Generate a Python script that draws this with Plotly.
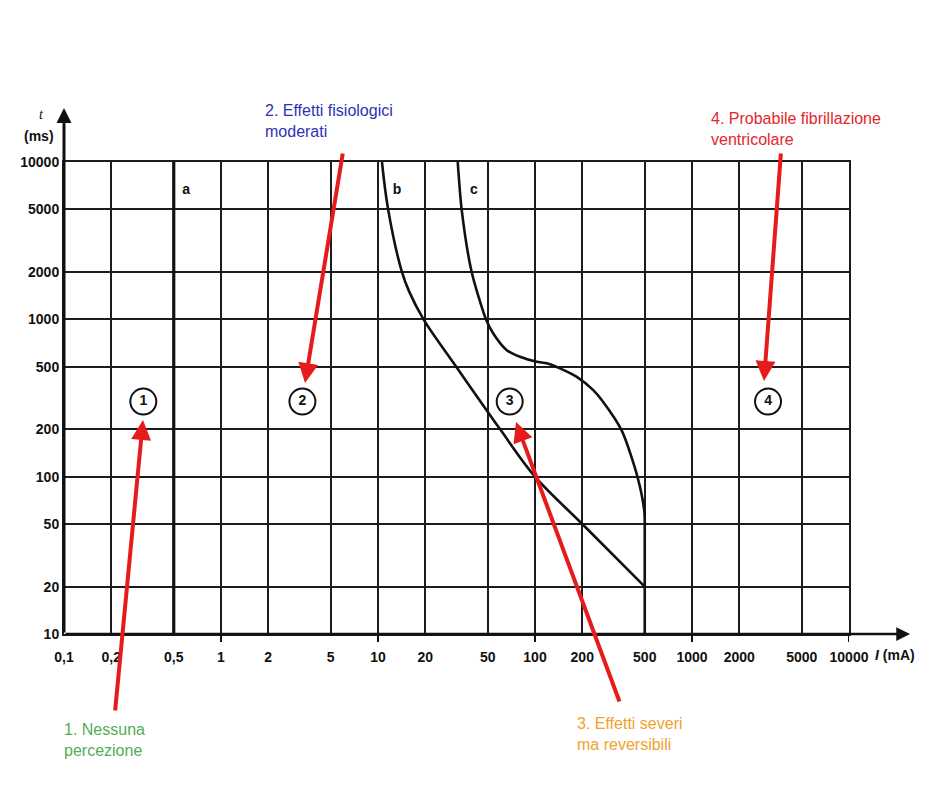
import plotly.graph_objects as go

# ---------------- data ----------------
x_ticks = [0.1, 0.2, 0.5, 1, 2, 5, 10, 20, 50, 100, 200, 500, 1000, 2000, 5000, 10000]
x_ticklabels = ["0,1", "0,2", "0,5", "1", "2", "5", "10", "20", "50", "100", "200",
                "500", "1000", "2000", "5000", "10000"]
y_ticks = [10, 20, 50, 100, 200, 500, 1000, 2000, 5000, 10000]
y_ticklabels = ["10", "20", "50", "100", "200", "500", "1000", "2000", "5000", "10000"]
decade_ticks = [1, 10, 100, 1000, 10000]

line_a_I = [0.5, 0.5]
line_a_t = [10, 10000]

curve_b_I = [10.6, 11.6, 14.2, 15.8, 19.5, 31.5, 60, 100, 200, 500]
curve_b_t = [10000, 5000, 2000, 1500, 1000, 500, 200, 100, 50, 20]

curve_c_I = [32.2, 34.1, 39.5, 48.7, 54.2, 66.1, 80.2, 102.6, 118.8, 144, 184.6, 235, 266, 357, 449, 497, 500, 500]
curve_c_t = [10000, 5000, 2000, 1000, 813, 637, 578, 537, 525, 488, 431, 355, 307, 196, 100, 60, 40, 10]

letter_I = [0.6, 13.2, 40.8]
letter_t = [6600, 6600, 6600]
letter_text = ["a", "b", "c"]

zone_I = [0.32, 3.3, 69, 3050]
zone_t = [300, 300, 300, 300]
zone_text = ["1", "2", "3", "4"]

zone_desc = ["1. Nessuna<br>percezione",
             "2. Effetti fisiologici<br>moderati",
             "3. Effetti severi<br>ma reversibili",
             "4. Probabile fibrillazione<br>ventricolare"]
zone_colors = ["#52ad57", "#2e31b6", "#f0a130", "#e3262a"]

# ---------------- layout helpers (pixel -> paper) ----------------
L, R, T, B = 64, 849, 162, 634
W, H = 952, 812


def px(x):
    return (x - L) / (R - L)


def py(y):
    return (B - y) / (B - T)


fig = go.Figure()

fig.add_trace(go.Scatter(x=line_a_I, y=line_a_t, mode="lines",
                         line=dict(color="#111111", width=3.2), showlegend=False, hoverinfo="skip"))
fig.add_trace(go.Scatter(x=curve_b_I, y=curve_b_t, mode="lines",
                         line=dict(color="#111111", width=2.6, shape="spline", smoothing=1.0),
                         showlegend=False))
fig.add_trace(go.Scatter(x=curve_c_I, y=curve_c_t, mode="lines",
                         line=dict(color="#111111", width=2.6, shape="spline", smoothing=0.7),
                         showlegend=False))
fig.add_trace(go.Scatter(x=letter_I, y=letter_t, mode="text", text=letter_text,
                         textfont=dict(family="Liberation Sans", size=14, color="#111111", weight="bold"),
                         showlegend=False))
fig.add_trace(go.Scatter(x=zone_I, y=zone_t, mode="markers+text", text=zone_text,
                         textposition="middle center",
                         marker=dict(symbol="circle", size=26, color="white",
                                     line=dict(color="#111111", width=2)),
                         textfont=dict(family="Liberation Sans", size=14, color="#111111", weight="bold"),
                         showlegend=False))

axis_common = dict(type="log", showgrid=True, gridcolor="#1c1c1c", gridwidth=2,
                   showline=True, linecolor="#1c1c1c", linewidth=2, mirror=True,
                   ticks="", zeroline=False,
                   tickfont=dict(family="Liberation Sans", size=14, color="#111111", weight="bold"))

fig.update_xaxes(range=[-1, 4], tickmode="array", tickvals=x_ticks, ticktext=x_ticklabels,
                 ticklabelstandoff=9, **axis_common)
fig.update_yaxes(range=[1, 4], tickmode="array", tickvals=y_ticks, ticktext=y_ticklabels,
                 ticklabelstandoff=0, **axis_common)

shapes = []
for d in decade_ticks:
    shapes.append(dict(type="line", xref="x", yref="paper", x0=d, x1=d,
                       y0=0, y1=-8 / (B - T), line=dict(color="#111111", width=2)))
fig.update_layout(shapes=shapes)

ann = []
# axis arrows
ann.append(dict(xref="paper", yref="paper", x=px(64), y=py(108), axref="pixel", ayref="pixel",
                ax=0, ay=B - 108, text="", showarrow=True, arrowhead=2, arrowsize=1.0,
                arrowwidth=3, arrowcolor="#111111", standoff=0, startstandoff=0))
ann.append(dict(xref="paper", yref="paper", x=px(910), y=py(634), axref="pixel", ayref="pixel",
                ax=-(910 - 64), ay=0, text="", showarrow=True, arrowhead=2, arrowsize=1.1,
                arrowwidth=2.5, arrowcolor="#111111", standoff=0, startstandoff=0))
# axis titles
ann.append(dict(xref="paper", yref="paper", x=px(41), y=py(114), text="<i>t</i>", showarrow=False,
                font=dict(family="Liberation Serif", size=14, color="#111111"), xanchor="center", yanchor="middle"))
ann.append(dict(xref="paper", yref="paper", x=px(39), y=py(136), text="(ms)", showarrow=False,
                font=dict(family="Liberation Sans", size=14, color="#111111", weight="bold"),
                xanchor="center", yanchor="middle"))
ann.append(dict(xref="paper", yref="paper", x=px(873), y=py(655), text="<i>I</i> (mA)", showarrow=False,
                font=dict(family="Liberation Sans", size=14, color="#111111", weight="bold"),
                xanchor="left", yanchor="middle"))

# descriptive labels
desc_pos = [(62, 740), (263, 121), (575, 734), (709, 129)]
for (tx, ty), txt, col in zip(desc_pos, zone_desc, zone_colors):
    ann.append(dict(xref="paper", yref="paper", x=px(tx), y=py(ty), text=txt, showarrow=False,
                    xanchor="left", yanchor="middle", align="left",
                    font=dict(family="Liberation Sans", size=16, color=col)))

# red arrows: (tip_x, tip_y, tail_x, tail_y)
arrows = [(143, 420, 115, 712), (305, 383, 343, 152), (516, 422, 620, 703), (764, 381, 781, 152)]
for tipx, tipy, tailx, taily in arrows:
    ann.append(dict(xref="paper", yref="paper", x=px(tipx), y=py(tipy), axref="pixel", ayref="pixel",
                    ax=tailx - tipx, ay=taily - tipy, text="", showarrow=True, arrowhead=2,
                    arrowsize=1.0, arrowwidth=4, arrowcolor="#e61c1c", standoff=0, startstandoff=0))

fig.update_layout(annotations=ann, width=W, height=H,
                  margin=dict(l=L, r=W - R, t=T, b=H - B, pad=0),
                  paper_bgcolor="white", plot_bgcolor="white", showlegend=False)

fig.write_html("out.html", config={"displayModeBar": False},
               post_script="document.body.style.margin='0';document.body.style.overflow='hidden';")
